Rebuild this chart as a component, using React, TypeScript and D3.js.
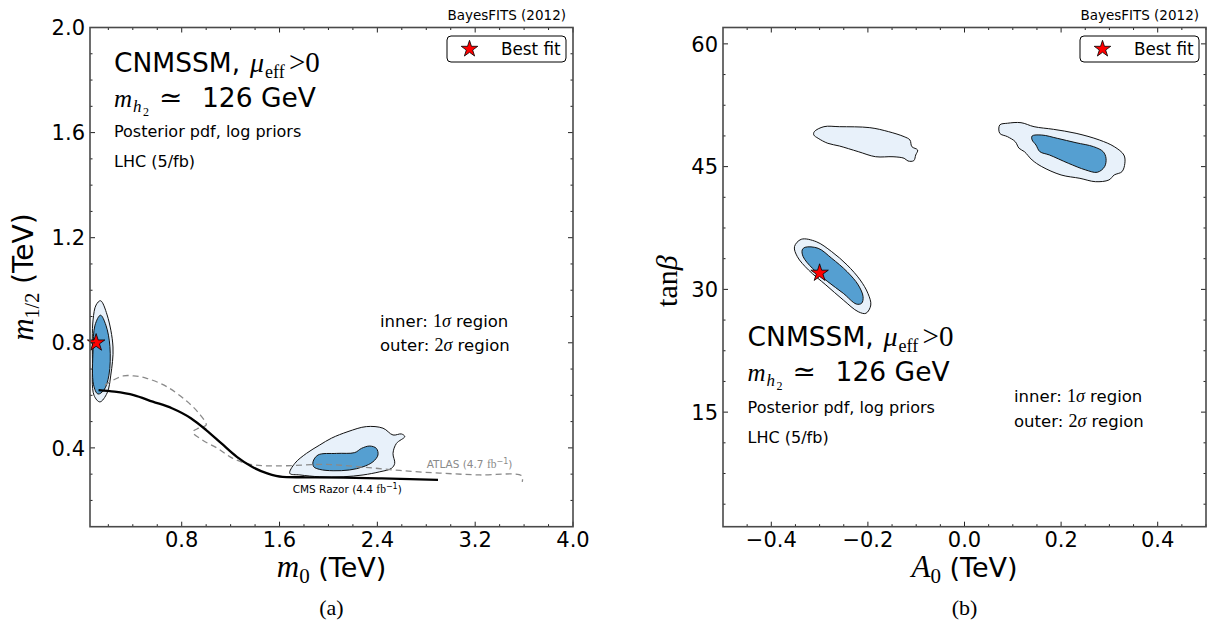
import React from 'react';
import * as d3 from 'd3';

type P = [number, number];

// ---------- tick labels ----------
const m0Ticks = [0.8, 1.6, 2.4, 3.2, 4.0];
const m12Ticks = [0.4, 0.8, 1.2, 1.6, 2.0];
const a0Ticks = [-0.4, -0.2, 0.0, 0.2, 0.4];
const tanbTicks = [15, 30, 45, 60];

// ---------- panel (a): m0 vs m1/2 ----------
const aOuter1: P[] = [
  [0.136, 0.96], [0.19, 0.906], [0.238, 0.784], [0.22, 0.677], [0.19, 0.609],
  [0.131, 0.575], [0.083, 0.6], [0.07, 0.735], [0.075, 0.887], [0.1, 0.944],
];
const aInner1: P[] = [
  [0.136, 0.905], [0.18, 0.867], [0.213, 0.785], [0.205, 0.677], [0.164, 0.62],
  [0.115, 0.605], [0.079, 0.64], [0.075, 0.773], [0.091, 0.867],
];
const aOuter2: P[] = [
  [1.684, 0.303], [1.725, 0.341], [1.82, 0.379], [1.929, 0.411], [2.025, 0.437],
  [2.16, 0.462], [2.31, 0.481], [2.446, 0.475], [2.528, 0.449], [2.597, 0.453],
  [2.624, 0.443], [2.556, 0.417], [2.528, 0.379], [2.542, 0.341], [2.515, 0.322],
  [2.42, 0.309], [2.283, 0.297], [2.12, 0.29], [1.929, 0.29], [1.766, 0.297],
];
const aInner2: P[] = [
  [1.874, 0.347], [1.915, 0.373], [2.066, 0.379], [2.215, 0.382], [2.27, 0.398],
  [2.338, 0.407], [2.392, 0.398], [2.405, 0.373], [2.364, 0.347], [2.283, 0.328],
  [2.174, 0.316], [2.038, 0.313], [1.929, 0.318], [1.88, 0.328],
];
const cmsRazor: P[] = [
  [0.12, 0.62], [0.251, 0.614], [0.407, 0.601], [0.563, 0.576], [0.72, 0.551],
  [0.875, 0.513], [1.0, 0.468], [1.125, 0.417], [1.251, 0.366], [1.375, 0.328],
  [1.5, 0.303], [1.625, 0.29], [1.812, 0.288], [2.125, 0.287], [2.436, 0.284],
  [2.896, 0.278],
];
const atlas: P[] = [
  [0.172, 0.639], [0.24, 0.658], [0.322, 0.674], [0.407, 0.674], [0.513, 0.665],
  [0.677, 0.633], [0.84, 0.578], [0.938, 0.533], [1.0, 0.487], [0.938, 0.475],
  [0.891, 0.46], [0.969, 0.43], [1.094, 0.398], [1.218, 0.36], [1.344, 0.339],
  [1.469, 0.332], [1.656, 0.332], [1.968, 0.337], [2.28, 0.327], [2.583, 0.314],
  [2.91, 0.304], [3.236, 0.297], [3.58, 0.294], [3.585, 0.271],
];
const bestFitA: P = [0.1, 0.8];

// ---------- panel (b): A0 vs tan beta ----------
const bOuter1: P[] = [
  [-0.338, 36.12], [-0.307, 35.83], [-0.275, 34.61], [-0.243, 32.98], [-0.216, 31.15],
  [-0.2, 29.52], [-0.194, 28.09], [-0.204, 27.08], [-0.22, 27.27], [-0.251, 28.7],
  [-0.287, 30.54], [-0.323, 32.37], [-0.346, 33.99], [-0.352, 35.22],
];
const bInner1: P[] = [
  [-0.33, 35.14], [-0.303, 35.02], [-0.275, 33.8], [-0.243, 32.16], [-0.22, 30.54],
  [-0.21, 29.11], [-0.213, 28.3], [-0.224, 28.21], [-0.251, 29.52], [-0.283, 30.94],
  [-0.315, 32.58], [-0.334, 33.99], [-0.336, 34.81],
];
const bOuter2: P[] = [
  [-0.311, 49.27], [-0.291, 49.88], [-0.259, 49.88], [-0.196, 49.76], [-0.157, 49.27],
  [-0.125, 48.66], [-0.113, 48.26], [-0.109, 47.44], [-0.097, 47.03], [-0.101, 46.42],
  [-0.105, 45.73], [-0.117, 45.69], [-0.125, 46.02], [-0.148, 46.21], [-0.184, 46.21],
  [-0.22, 46.83], [-0.259, 47.52], [-0.283, 47.85], [-0.303, 48.46], [-0.312, 48.87],
];
const bOuter3: P[] = [
  [0.073, 50.09], [0.089, 50.3], [0.117, 50.37], [0.144, 49.88], [0.184, 49.56],
  [0.231, 49.07], [0.279, 48.26], [0.31, 47.44], [0.33, 46.42], [0.332, 45.41],
  [0.326, 44.38], [0.31, 43.98], [0.299, 43.37], [0.271, 43.16], [0.239, 43.57],
  [0.2, 43.98], [0.16, 45.0], [0.14, 45.81], [0.124, 46.83], [0.113, 47.24],
  [0.105, 48.05], [0.089, 48.66], [0.073, 49.07],
];
const bInner3: P[] = [
  [0.14, 48.74], [0.16, 48.86], [0.192, 48.46], [0.231, 47.92], [0.267, 47.44],
  [0.287, 46.83], [0.293, 46.02], [0.29, 44.99], [0.275, 44.31], [0.251, 44.59],
  [0.215, 45.41], [0.176, 46.42], [0.156, 46.83], [0.148, 47.64], [0.14, 48.26],
];
const bestFitB: P = [-0.3, 32];

// ---------- layout ----------
const W = 1210, H = 625;
const TOP = 27.5, BOTTOM = 526.7, PW = 483;
const LEFT_A = 90, LEFT_B = 723;

const SANS = "'DejaVu Sans', sans-serif";
const SERIF = "'Liberation Serif', 'DejaVu Serif', serif";
const INNER = '#559fd1';
const OUTER = '#e8f1fa';

const fmt1 = d3.format('.1f');
const fmtMinus = (v: number) => fmt1(v).replace('-', '\u2212');

type Sc = d3.ScaleLinear<number, number>;

function Axes({ x, y, xMajor, xMinor, yMajor, yMinor, xFmt, yFmt }: {
  x: Sc; y: Sc; xMajor: number[]; xMinor: number[]; yMajor: number[]; yMinor: number[];
  xFmt: (v: number) => string; yFmt: (v: number) => string;
}) {
  const [x0, x1] = x.range();
  const [y1, y0] = y.range();
  const tick = '#222';
  return (
    <g>
      {xMinor.map((v, i) => (
        <g key={'xm' + i}>
          <line x1={x(v)} x2={x(v)} y1={y1} y2={y1 - 2.5} stroke={tick} strokeWidth={1} />
          <line x1={x(v)} x2={x(v)} y1={y0} y2={y0 + 2.5} stroke={tick} strokeWidth={1} />
        </g>
      ))}
      {yMinor.map((v, i) => (
        <g key={'ym' + i}>
          <line x1={x0} x2={x0 + 2.5} y1={y(v)} y2={y(v)} stroke={tick} strokeWidth={1} />
          <line x1={x1} x2={x1 - 2.5} y1={y(v)} y2={y(v)} stroke={tick} strokeWidth={1} />
        </g>
      ))}
      {xMajor.map((v, i) => (
        <g key={'xM' + i}>
          <line x1={x(v)} x2={x(v)} y1={y1} y2={y1 - 5} stroke={tick} strokeWidth={1} />
          <line x1={x(v)} x2={x(v)} y1={y0} y2={y0 + 5} stroke={tick} strokeWidth={1} />
          <text x={x(v)} y={547} textAnchor="middle" fontFamily={SANS} fontSize={21} fill="#000">
            {xFmt(v)}
          </text>
        </g>
      ))}
      {yMajor.map((v, i) => (
        <g key={'yM' + i}>
          <line x1={x0} x2={x0 + 5} y1={y(v)} y2={y(v)} stroke={tick} strokeWidth={1} />
          <line x1={x1} x2={x1 - 5} y1={y(v)} y2={y(v)} stroke={tick} strokeWidth={1} />
          <text x={x0 - 5} y={y(v) + 7.7} textAnchor="end" fontFamily={SANS} fontSize={21} fill="#000">
            {yFmt(v)}
          </text>
        </g>
      ))}
      <rect x={x0} y={y0} width={x1 - x0} height={y1 - y0} fill="none" stroke="#4a4a4a" strokeWidth={1.6} />
    </g>
  );
}

function Star({ cx, cy, size = 95 }: { cx: number; cy: number; size?: number }) {
  const path = d3.symbol().type(d3.symbolStar).size(size)() || '';
  return <path d={path} transform={`translate(${cx},${cy})`} fill="#ff0000" stroke="#000" strokeWidth={0.8} />;
}

function Header({ right }: { right: number }) {
  return (
    <g>
      <text x={right} y={20} textAnchor="end" fontFamily={SANS} fontSize={13.5} fill="#000">BayesFITS (2012)</text>
      <rect x={right - 119} y={36} width={119} height={26} rx={4} fill="#fff" stroke="#000" strokeWidth={1} />
      <Star cx={right - 96.5} cy={49} size={85} />
      <text x={right - 65} y={55} fontFamily={SANS} fontSize={16.8} fill="#000">Best fit</text>
    </g>
  );
}

function TitleBlock({ x, b1, b2, b3, b4 }: { x: number; b1: number; b2: number; b3: number; b4: number }) {
  return (
    <g fill="#000">
      <text x={x} y={b1} fontFamily={SANS} fontSize={26.5}>
        CNMSSM,
        <tspan x={x + 136} fontFamily={SERIF} fontStyle="italic" fontSize={28}>μ</tspan>
        <tspan x={x + 151} dy={6} fontFamily={SERIF} fontSize={18}>eff</tspan>
        <tspan x={x + 175} dy={-6} fontFamily={SERIF} fontSize={29}>&gt;0</tspan>
      </text>
      <text x={x} y={b2} fontFamily={SANS} fontSize={26.5}>
        <tspan fontFamily={SERIF} fontStyle="italic" fontSize={25}>m</tspan>
        <tspan x={x + 19} dy={5} fontFamily={SERIF} fontStyle="italic" fontSize={17}>h</tspan>
        <tspan x={x + 29} dy={4} fontFamily={SERIF} fontSize={12}>2</tspan>
        <tspan x={x + 45} dy={-9} fontFamily="'DejaVu Serif', serif" fontSize={28}>≃</tspan>
        <tspan x={x + 88}>126 GeV</tspan>
      </text>
      <text x={x} y={b3} fontFamily={SANS} fontSize={16}>Posterior pdf, log priors</text>
      <text x={x} y={b4} fontFamily={SANS} fontSize={16}>LHC (5/fb)</text>
    </g>
  );
}

function SigmaText({ x, b1, b2 }: { x: number; b1: number; b2: number }) {
  return (
    <g fill="#000" fontFamily={SANS} fontSize={16.5}>
      <text x={x} y={b1}>
        inner: <tspan fontFamily={SERIF} fontSize={18}>1</tspan>
        <tspan fontFamily={SERIF} fontStyle="italic" fontSize={18}>σ</tspan> region
      </text>
      <text x={x} y={b2}>
        outer: <tspan fontFamily={SERIF} fontSize={18}>2</tspan>
        <tspan fontFamily={SERIF} fontStyle="italic" fontSize={18}>σ</tspan> region
      </text>
    </g>
  );
}

export default function App() {
  // scales
  const xA = d3.scaleLinear().domain([0.05, 4.0]).range([LEFT_A, LEFT_A + PW]);
  const yA = d3.scaleLinear().domain([0.1, 2.0]).range([BOTTOM, TOP]);
  const xB = d3.scaleLinear().domain([-0.5, 0.5]).range([LEFT_B, LEFT_B + PW]);
  const yB = d3.scaleLinear().domain([1, 62]).range([BOTTOM, TOP]);

  const closedA = d3.line<P>().x(d => xA(d[0])).y(d => yA(d[1])).curve(d3.curveCatmullRomClosed.alpha(0.5));
  const closedB = d3.line<P>().x(d => xB(d[0])).y(d => yB(d[1])).curve(d3.curveCatmullRomClosed.alpha(0.5));
  const cmsLine = d3.line<P>().x(d => xA(d[0])).y(d => yA(d[1])).curve(d3.curveMonotoneX);
  const atlasLine = d3.line<P>().x(d => xA(d[0])).y(d => yA(d[1])).curve(d3.curveCatmullRom.alpha(0.5));

  const minorA_x = d3.range(0.2, 4.0001, 0.2).filter(v => !m0Ticks.some(t => Math.abs(t - v) < 1e-6));
  const minorA_y = d3.range(0.2, 2.0001, 0.1).filter(v => !m12Ticks.some(t => Math.abs(t - v) < 1e-6));
  const minorB_x = d3.range(-0.45, 0.5001, 0.05).filter(v => !a0Ticks.some(t => Math.abs(t - v) < 1e-6));
  const minorB_y = d3.range(3.75, 62, 3.75).filter(v => !tanbTicks.some(t => Math.abs(t - v) < 1e-6));

  const contour = (d: string, fill: string, key: string) => (
    <path key={key} d={d} fill={fill} stroke="#111" strokeWidth={1} />
  );

  return (
    <svg width={W} height={H} viewBox={`0 0 ${W} ${H}`}
      style={{ position: 'absolute', left: 0, top: 0, background: '#fff' }}>
      <defs>
        <clipPath id="clipA"><rect x={LEFT_A} y={TOP} width={PW} height={BOTTOM - TOP} /></clipPath>
        <clipPath id="clipB"><rect x={LEFT_B} y={TOP} width={PW} height={BOTTOM - TOP} /></clipPath>
      </defs>
      <rect x={0} y={0} width={W} height={H} fill="#fff" />

      {/* ---------------- Panel (a) ---------------- */}
      <g clipPath="url(#clipA)">
        {contour(closedA(aOuter1) || '', OUTER, 'ao1')}
        {contour(closedA(aInner1) || '', INNER, 'ai1')}
        {contour(closedA(aOuter2) || '', OUTER, 'ao2')}
        {contour(closedA(aInner2) || '', INNER, 'ai2')}
        <path d={atlasLine(atlas) || ''} fill="none" stroke="#8a8a8a" strokeWidth={1.3} strokeDasharray="6,4" />
        <path d={cmsLine(cmsRazor) || ''} fill="none" stroke="#000" strokeWidth={2.3} />
      </g>
      <text x={426.7} y={468.3} fontFamily={SANS} fontSize={10.5} fill="#8a8a8a">
        ATLAS (4.7 <tspan fontFamily={SERIF} fontSize={11.5}>fb</tspan>
        <tspan dy={-4} fontSize={8}>−1</tspan><tspan dy={4}>)</tspan>
      </text>
      <text x={292.7} y={493.3} fontFamily={SANS} fontSize={10.5} fill="#000">
        CMS Razor (4.4 <tspan fontFamily={SERIF} fontSize={11.5}>fb</tspan>
        <tspan dy={-4} fontSize={8}>−1</tspan><tspan dy={4}>)</tspan>
      </text>
      <Star cx={xA(bestFitA[0])} cy={yA(bestFitA[1])} size={95} />
      <Axes x={xA} y={yA} xMajor={m0Ticks} xMinor={minorA_x} yMajor={m12Ticks} yMinor={minorA_y}
        xFmt={fmt1} yFmt={fmt1} />
      <Header right={566} />
      <TitleBlock x={114} b1={71.7} b2={106.7} b3={137.3} b4={166.7} />
      <SigmaText x={380} b1={326.7} b2={351} />
      <text x={LEFT_A + PW / 2} y={577} textAnchor="middle" fontFamily={SANS} fontSize={27} fill="#000">
        <tspan fontFamily={SERIF} fontStyle="italic" fontSize={31}>m</tspan>
        <tspan dy={6} fontFamily={SERIF} fontSize={21}>0</tspan>
        <tspan dy={-6}> (TeV)</tspan>
      </text>
      <text transform={`translate(33,${(TOP + BOTTOM) / 2}) rotate(-90)`} textAnchor="middle"
        fontFamily={SANS} fontSize={28} fill="#000">
        <tspan fontFamily={SERIF} fontStyle="italic" fontSize={31}>m</tspan>
        <tspan dy={6} fontFamily={SERIF} fontSize={20}>1/2</tspan>
        <tspan dy={-6}> (TeV)</tspan>
      </text>
      <text x={LEFT_A + PW / 2} y={615} textAnchor="middle" fontFamily={SERIF} fontSize={22} fill="#000">(a)</text>

      {/* ---------------- Panel (b) ---------------- */}
      <g clipPath="url(#clipB)">
        {contour(closedB(bOuter1) || '', OUTER, 'bo1')}
        {contour(closedB(bInner1) || '', INNER, 'bi1')}
        {contour(closedB(bOuter2) || '', OUTER, 'bo2')}
        {contour(closedB(bOuter3) || '', OUTER, 'bo3')}
        {contour(closedB(bInner3) || '', INNER, 'bi3')}
      </g>
      <Star cx={xB(bestFitB[0])} cy={yB(bestFitB[1])} size={95} />
      <Axes x={xB} y={yB} xMajor={a0Ticks} xMinor={minorB_x} yMajor={tanbTicks} yMinor={minorB_y}
        xFmt={fmtMinus} yFmt={d3.format('d')} />
      <Header right={1199} />
      <TitleBlock x={747.6} b1={345.7} b2={381} b3={412.7} b4={442.7} />
      <SigmaText x={1014} b1={401.7} b2={426.7} />
      <text x={LEFT_B + PW / 2} y={577} textAnchor="middle" fontFamily={SANS} fontSize={27} fill="#000">
        <tspan fontFamily={SERIF} fontStyle="italic" fontSize={31}>A</tspan>
        <tspan dy={6} fontFamily={SERIF} fontSize={21}>0</tspan>
        <tspan dy={-6}> (TeV)</tspan>
      </text>
      <text transform={`translate(677,${(TOP + BOTTOM) / 2 + 4}) rotate(-90)`} textAnchor="middle"
        fontFamily={SERIF} fontSize={30} fill="#000">
        tan<tspan fontStyle="italic">β</tspan>
      </text>
      <text x={LEFT_B + PW / 2} y={615} textAnchor="middle" fontFamily={SERIF} fontSize={22} fill="#000">(b)</text>
    </svg>
  );
}
